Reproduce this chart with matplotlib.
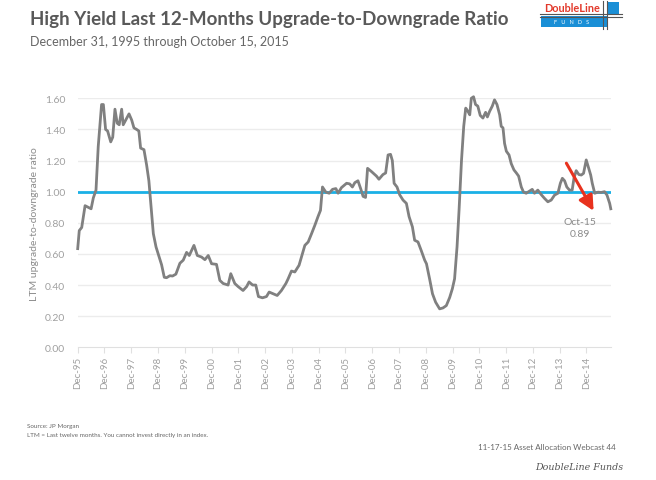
'''
High yield LTM upgrade-to-downgrade ratio, Dec-95 to Oct-15
'''
import matplotlib
matplotlib.use("Agg")
import matplotlib.pyplot as plt
from matplotlib.patches import Rectangle

# months after Dec-95, ratio
months = [0, 0.7, 1.8, 3.3, 4.7, 6, 7, 8.2, 9.2, 10.7, 11.5, 12.5, 13.4, 14.8, 15.7, 16.7,
          17.7, 18.6, 19.7, 20.4, 21.9, 23, 24.2, 25.2, 26.4, 27.4, 28.2, 29.7, 30.9, 31.9,
          32.8, 33.9, 35.1, 36.5, 37.6, 38.8, 39.8, 41.3, 42.5, 44, 45.8, 47.3, 48.8, 50,
          52.1, 53.6, 55.5, 57, 58.5, 60, 62.2, 63.7, 65.2, 67.4, 68.6, 70.4, 71.9, 74.1,
          75.7, 76.8, 78.4, 79.8, 81, 82.8, 84.6, 85.8, 87.6, 89.4, 91.3, 93.3, 94.3, 95.8,
          97.3, 99.2, 100.7, 101.8, 103.3, 104.8, 106.3, 107.7, 108.8, 109.7, 111.2, 112.7,
          114.2, 115.7, 116.7, 118.2, 120.5, 121.9, 123.1, 124.2, 125.6, 126.8, 127.9, 129,
          129.9, 131.6, 133.9, 135, 136.8, 138, 139.1, 140.2, 141, 141.8, 143.1, 144.3,
          145.8, 147.3, 148.5, 150, 151, 152.5, 154, 155.5, 156.3, 157.7, 159, 160.4, 162.2,
          163.7, 165.2, 166.7, 167.9, 168.9, 170, 170.9, 172, 173, 173.9, 174.9, 175.7,
          176.4, 177.4, 178.3, 179.3, 180.4, 181.6, 182.8, 183.6, 184.6, 185.8, 186.8,
          187.9, 189.1, 189.8, 190.6, 191.3, 192.1, 193.3, 194.3, 195.5, 196.6, 197.6,
          198.8, 199.8, 201, 202.5, 203.7, 204.7, 206.2, 207.8, 209.2, 210.7, 212.2, 213.7,
          215.2, 216.3, 217.2, 218.2, 219.2, 220.4, 221.6, 222.4, 223.4, 224.6, 225.7,
          226.7, 227.9, 229, 229.9, 230.6, 231.7, 233.2, 234.6, 236.1, 237.2, 238.4, 238.9]
ratio = [0.634, 0.75, 0.77, 0.91, 0.90, 0.89, 0.96, 1.01, 1.29, 1.56, 1.56, 1.40, 1.39, 1.32,
         1.35, 1.53, 1.44, 1.43, 1.53, 1.43, 1.47, 1.50, 1.46, 1.41, 1.40, 1.39, 1.28, 1.27,
         1.17, 1.07, 0.92, 0.73, 0.645, 0.58, 0.53, 0.45, 0.447, 0.46, 0.458, 0.47, 0.54,
         0.56, 0.61, 0.59, 0.655, 0.59, 0.58, 0.563, 0.59, 0.537, 0.533, 0.43, 0.41, 0.40,
         0.473, 0.41, 0.39, 0.365, 0.39, 0.42, 0.40, 0.40, 0.326, 0.318, 0.326, 0.355, 0.344,
         0.333, 0.365, 0.41, 0.44, 0.49, 0.484, 0.527, 0.60, 0.655, 0.677, 0.73, 0.785, 0.84,
         0.88, 1.03, 0.997, 0.99, 1.015, 1.02, 0.99, 1.026, 1.054, 1.05, 1.03, 1.058, 1.07,
         1.02, 0.97, 0.963, 1.15, 1.13, 1.10, 1.08, 1.11, 1.12, 1.236, 1.24, 1.20, 1.054,
         1.03, 0.98, 0.946, 0.925, 0.84, 0.774, 0.688, 0.677, 0.62, 0.56, 0.537, 0.44, 0.344,
         0.29, 0.247, 0.253, 0.268, 0.32, 0.376, 0.44, 0.645, 0.88, 1.20, 1.42, 1.537, 1.516,
         1.494, 1.60, 1.61, 1.56, 1.55, 1.49, 1.473, 1.51, 1.48, 1.516, 1.55, 1.59, 1.56,
         1.494, 1.42, 1.41, 1.31, 1.26, 1.236, 1.18, 1.14, 1.12, 1.10, 1.03, 0.997, 0.99,
         1.004, 1.015, 0.99, 1.01, 0.98, 0.957, 0.935, 0.946, 0.978, 0.99, 1.054, 1.086,
         1.07, 1.03, 1.01, 1.01, 1.086, 1.135, 1.11, 1.107, 1.118, 1.204, 1.15, 1.107,
         1.054, 0.99, 0.997, 0.995, 1.0, 0.978, 0.925, 0.89]

tick_labels = ["Dec-%02d" % (y % 100) for y in range(1995, 2015)]
tick_pos = [12 * i for i in range(len(tick_labels))]
y_ticks = [0.0, 0.2, 0.4, 0.6, 0.8, 1.0, 1.2, 1.4, 1.6]

plt.rcParams['font.family'] = ['Lato', 'DejaVu Sans']

fig = plt.figure(figsize=(6.56, 4.81), dpi=100)
fig.patch.set_facecolor("white")
W, H = 656.0, 481.0

ax = fig.add_axes([77.7 / W, 1 - 348.3 / H, (611 - 77.7) / W, (348.3 - 99.3) / H])
ax.set_xlim(0, 239)
ax.set_ylim(0, 1.6)
for v in y_ticks[1:]:
    ax.axhline(v, color="#ececec", lw=1, zorder=0)
ax.axhline(1.0, color="#1ab0e6", lw=2, zorder=2)
ax.plot(months, ratio, color="#808080", lw=2, zorder=3, clip_on=False)

for s in ["top", "right", "left"]:
    ax.spines[s].set_visible(False)
ax.spines["bottom"].set_color("#e0e0e0")
ax.set_xticks(tick_pos)
ax.set_xticklabels(tick_labels, rotation=90, fontsize=7, color="#a0a0a0")
ax.tick_params(axis="x", length=4, color="#e0e0e0", pad=2)
ax.set_yticks(y_ticks)
ax.set_yticklabels(["%.2f" % v for v in y_ticks], fontsize=7.5, color="#a0a0a0")
ax.tick_params(axis="y", length=0, pad=9)
ax.set_ylabel("LTM upgrade-to-downgrade ratio", fontsize=7.5, color="#8c8c8c", labelpad=4)

# arrow + label for last point
ax.annotate("", xy=(231.2, 0.877), xytext=(219, 1.183),
            arrowprops=dict(arrowstyle="-|>,head_width=0.45,head_length=0.9",
                            color="#e8321e", lw=2.2, shrinkA=0, shrinkB=0), zorder=5)
ax.text(225, 0.77, "Oct-15\n0.89", ha="center", va="center", fontsize=7.5,
        color="#8a8a8a", linespacing=1.4)

# titles
fig.text(30 / W, 1 - 20 / H, "High Yield Last 12-Months Upgrade-to-Downgrade Ratio",
         fontsize=13.5, fontweight="bold", color="#595959", va="center")
fig.text(30 / W, 1 - 42 / H, "December 31, 1995 through October 15, 2015",
         fontsize=9, color="#666666", va="center")

# logo
fig.add_artist(Rectangle((541 / W, 1 - 28 / H), 66 / W, 11 / H, transform=fig.transFigure,
                         facecolor="#1a8fd6", edgecolor="none"))
fig.add_artist(Rectangle((607 / W, 1 - 15 / H), 12 / W, 12 / H, transform=fig.transFigure,
                         facecolor="#1a8fd6", edgecolor="none"))
fig.add_artist(plt.Line2D([603 / W, 603 / W], [1 - 2 / H, 1 - 30 / H], transform=fig.transFigure,
                          color="#555555", lw=0.8))
fig.add_artist(plt.Line2D([607 / W, 607 / W], [1 - 2 / H, 1 - 30 / H], transform=fig.transFigure,
                          color="#555555", lw=0.8))
fig.add_artist(plt.Line2D([540 / W, 622 / W], [1 - 15 / H, 1 - 15 / H], transform=fig.transFigure,
                          color="#555555", lw=0.8))
fig.add_artist(plt.Line2D([540 / W, 622 / W], [1 - 17.5 / H, 1 - 17.5 / H], transform=fig.transFigure,
                          color="#555555", lw=0.8))
fig.text(572 / W, 1 - 8.5 / H, "DoubleLine", fontsize=7.8, fontweight="bold", color="#e2392b",
         ha="center", va="center")
fig.text(572 / W, 1 - 22.5 / H, "F   U   N   D   S", fontsize=4, color="white",
         ha="center", va="center")

# footers
fig.text(27 / W, 1 - 427 / H, "Source: JP Morgan", fontsize=4.5, color="#666666", va="center")
fig.text(27 / W, 1 - 436 / H, "LTM = Last twelve months. You cannot invest directly in an index.",
         fontsize=4.5, color="#666666", va="center")
fig.text(478 / W, 1 - 448 / H, "11-17-15 Asset Allocation Webcast 44", fontsize=5.8,
         color="#666666", va="center")
fig.text(623 / W, 1 - 468 / H, "DoubleLine Funds", fontsize=6.8, color="#555555",
         fontstyle="italic", family="DejaVu Serif", ha="right", va="center")

fig.savefig("out.png", dpi=100, facecolor="white")
